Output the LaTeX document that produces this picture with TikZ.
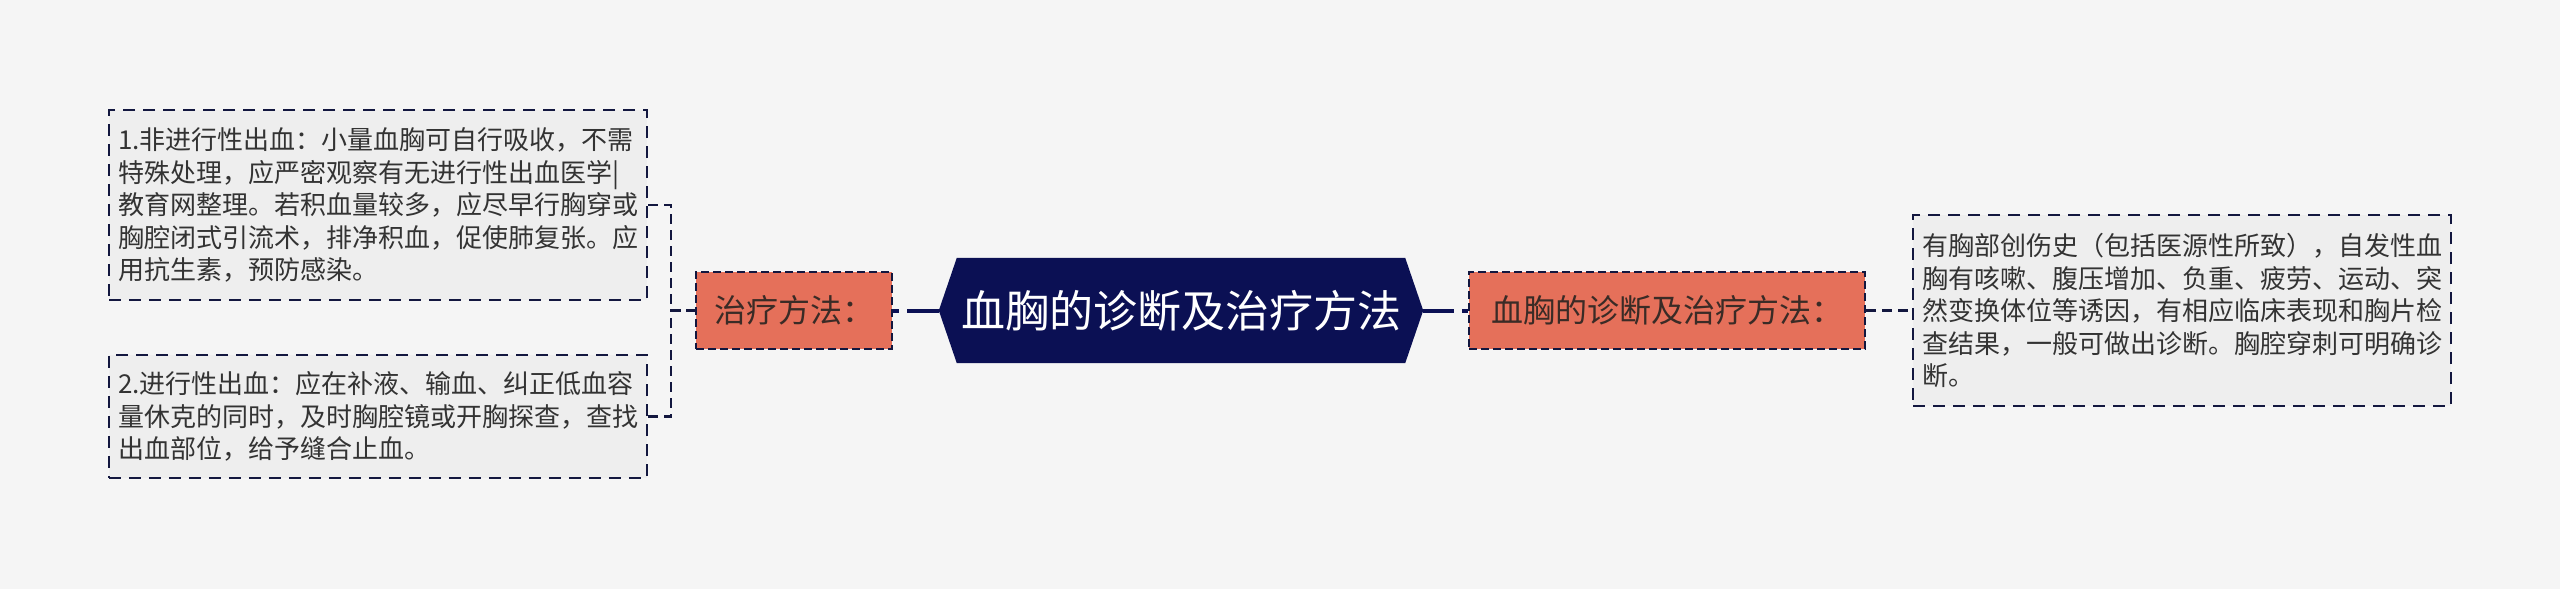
\documentclass[tikz,border=0pt]{standalone}
\usepackage{fontspec}
\newfontfamily\cjk{Noto Sans CJK SC}
\usetikzlibrary{backgrounds}
\definecolor{bgc}{HTML}{F5F5F5}
\definecolor{navy}{HTML}{0B1054}
\definecolor{edge}{HTML}{13173F}
\definecolor{orng}{HTML}{E5705A}
\definecolor{boxfill}{HTML}{EEEEEE}
\definecolor{txt}{HTML}{333333}
\definecolor{otxt}{HTML}{3A2B26}
\tikzset{
  leafbox/.style={draw=edge, fill=boxfill, line width=2.2pt, dash pattern=on 12pt off 8pt,
    text=txt, font=\cjk\fontsize{26}{32.5}\selectfont, align=left, inner sep=0pt,
    minimum width=538pt, anchor=center},
  midbox/.style={draw=edge, fill=orng, line width=2.2pt, dash pattern=on 8pt off 4pt,
    text=otxt, font=\cjk\fontsize{32}{38}\selectfont, inner sep=0pt,
    minimum height=77pt, anchor=center},
  rootbox/.style={text=white, font=\cjk\fontsize{44}{52}\selectfont, inner sep=0pt,
    minimum width=448pt, minimum height=105pt, anchor=center},
  conn/.style={draw=edge, line width=2.4pt, dash pattern=on 10pt off 6pt},
  rootconn/.style={draw=navy, line width=4pt, dash pattern=on 6pt off 8pt on 200pt off 1pt}
}
\begin{document}
\begin{tikzpicture}[x=1pt, y=-1pt]
\useasboundingbox (0,0) rectangle (2560,589);
\node[rootbox] (root) at (1181,310.5) {血胸的诊断及治疗方法};
\coordinate (rootL) at ([xshift=-18pt]root.west);
\coordinate (rootR) at ([xshift=18pt]root.east);
\begin{scope}[on background layer]
  \fill[bgc] (0,0) rectangle (2560,589);
  \fill[navy] (root.north west) -- (root.north east) -- (rootR) -- (root.south east)
    -- (root.south west) -- (rootL) -- cycle;
\end{scope}
\node[midbox, minimum width=196pt] (zl) at (794,310.5) {治疗方法：};
\node[midbox, minimum width=396pt] (zr) at (1667,310.5) {血胸的诊断及治疗方法：};
\node[leafbox, minimum height=190pt] (b1) at (378,205) {1.非进行性出血：小量血胸可自行吸收，不需\\特殊处理，应严密观察有无进行性出血医学|\\教育网整理。若积血量较多，应尽早行胸穿或\\胸腔闭式引流术，排净积血，促使肺复张。应\\用抗生素，预防感染。};
\node[leafbox, minimum height=123pt] (b2) at (378,416.5) {2.进行性出血：应在补液、输血、纠正低血容\\量休克的同时，及时胸腔镜或开胸探查，查找\\出血部位，给予缝合止血。};
\node[leafbox, minimum height=191pt] (rb) at (2182,310.5) {有胸部创伤史（包括医源性所致），自发性血\\胸有咳嗽、腹压增加、负重、疲劳、运动、突\\然变换体位等诱因，有相应临床表现和胸片检\\查结果，一般可做出诊断。胸腔穿刺可明确诊\\断。};
\draw[rootconn] (zl.east) -- (rootL);
\draw[rootconn] (zr.west) -- (rootR);
\draw[conn] (b1.east) -- ++(23,0) |- (zl.west);
\draw[conn] (b2.east) -- ++(23,0) |- (zl.west);
\draw[conn] (zr.east) -- (rb.west);
\end{tikzpicture}
\end{document}
